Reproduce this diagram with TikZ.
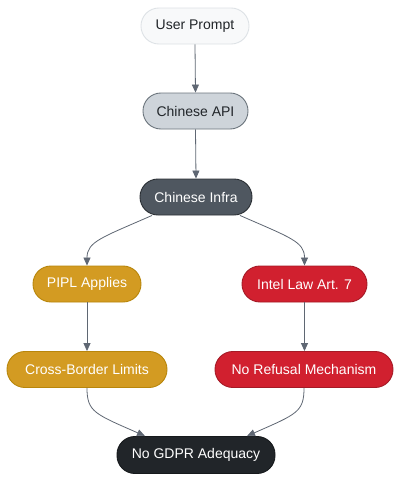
\documentclass[tikz,border=0pt]{standalone}
\usepackage{fontspec}
\setmainfont{Liberation Sans}
\usetikzlibrary{arrows.meta}
\definecolor{userfill}{HTML}{F8F9FA}
\definecolor{userdraw}{HTML}{DEE2E6}
\definecolor{apifill}{HTML}{CED4DA}
\definecolor{apidraw}{HTML}{6C757D}
\definecolor{infrafill}{HTML}{4F5760}
\definecolor{infradraw}{HTML}{2B3035}
\definecolor{goldfill}{HTML}{D39B22}
\definecolor{golddraw}{HTML}{B8860B}
\definecolor{redfill}{HTML}{D1202F}
\definecolor{reddraw}{HTML}{A51A26}
\definecolor{darkfill}{HTML}{212529}
\definecolor{darkdraw}{HTML}{16191C}
\definecolor{textdark}{HTML}{212529}
\definecolor{edgecol}{HTML}{5F6773}
\tikzset{
  box/.style={rectangle, rounded corners=17.9pt, minimum height=36pt, inner sep=0pt,
    line width=0.9pt, font=\fontsize{14}{16}\selectfont},
  lightbox/.style={box, fill=userfill, draw=userdraw, text=textdark},
  apibox/.style={box, fill=apifill, draw=apidraw, text=textdark},
  infrabox/.style={box, fill=infrafill, draw=infradraw, text=white},
  goldbox/.style={box, fill=goldfill, draw=golddraw, text=white},
  redbox/.style={box, fill=redfill, draw=reddraw, text=white},
  darkbox/.style={box, fill=darkfill, draw=darkdraw, text=white},
  arr/.style={draw=edgecol, line width=0.8pt, -{Triangle[length=8pt,width=7pt]}}
}
\begin{document}
\begin{tikzpicture}[x=1pt,y=-1pt]
\useasboundingbox[fill=white] (0,0) rectangle (409,491);
\node[lightbox, minimum width=108pt] (user) at (195,26) {User Prompt};
\node[apibox, minimum width=105pt] (api) at (195.5,111) {Chinese API};
\node[infrabox, minimum width=112pt] (infra) at (196,197) {Chinese Infra};
\node[goldbox, minimum width=108pt] (pipl) at (87,284) {PIPL Applies};
\node[redbox, minimum width=125pt] (intel) at (304.5,284) {Intel Law Art. 7};
\node[goldbox, minimum width=160pt] (cross) at (87,369.5) {Cross-Border Limits};
\node[redbox, minimum width=178pt] (norefusal) at (304,369.5) {No Refusal Mechanism};
\node[darkbox, minimum width=158pt, minimum height=37pt] (gdpr) at (196,455) {No GDPR Adequacy};

\draw[arr] (user.south) -- (api.north);
\draw[arr] (api.south) -- (infra.north);
\draw[arr] ([xshift=-44pt]infra.south) .. controls +(-50,22) and +(0,-24) .. (pipl.north);
\draw[arr] ([xshift=44pt]infra.south) .. controls +(50,22) and +(0,-24) .. (intel.north);
\draw[arr] (pipl.south) -- (cross.north);
\draw[arr] (intel.south) -- (intel.south |- norefusal.north);
\draw[arr] (cross.south) .. controls +(0,24) and +(-50,-22) .. ([xshift=-51pt]gdpr.north);
\draw[arr] (norefusal.south) .. controls +(0,24) and +(50,-22) .. ([xshift=51pt]gdpr.north);
\end{tikzpicture}
\end{document}
